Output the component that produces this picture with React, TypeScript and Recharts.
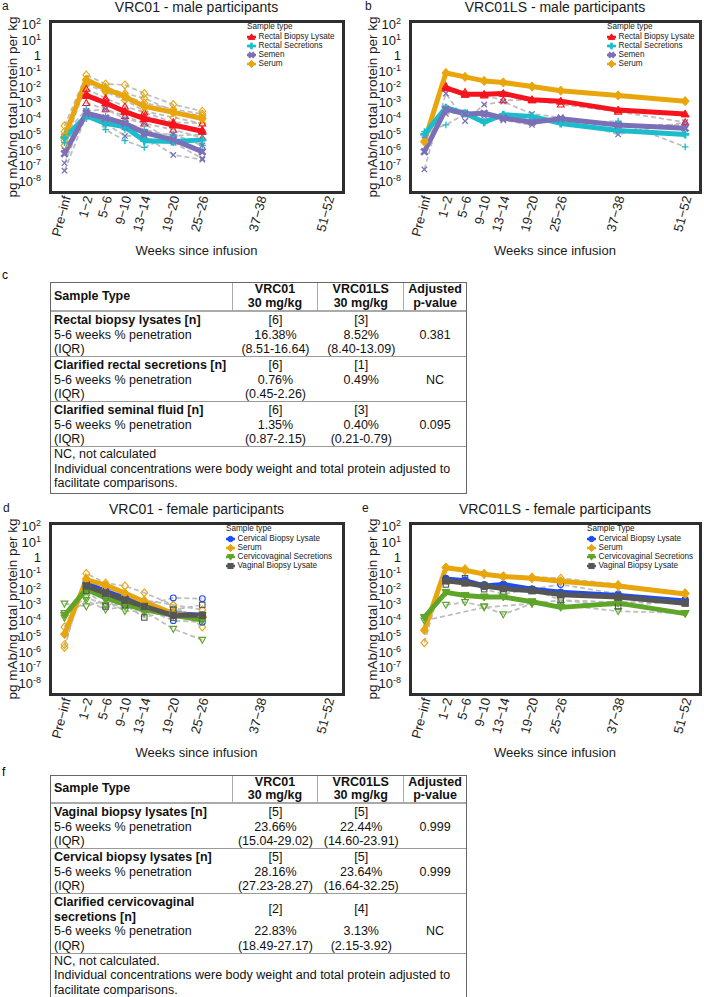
import React from 'react'
import { LineChart, Line, XAxis, YAxis } from 'recharts'

const FONT = '"Liberation Sans", Arial, Helvetica, sans-serif'

// time axis: label and position in weeks
const timeLabels = ['Pre−inf', '1−2', '5−6', '9−10', '13−14', '19−20', '25−26', '37−38', '51−52']
const timeWeeks = [-3, 1.5, 5.5, 9.5, 13.5, 19.5, 25.5, 37.5, 51.5]
const yTicks = [1e-8, 1e-7, 1e-6, 1e-5, 1e-4, 1e-3, 1e-2, 1e-1, 1, 10, 100]

const RED = '#f5141e'
const CYAN = '#1bbccb'
const PURPLE = '#7b6fb8'
const GOLD = '#e8a60c'
const BLUE = '#1e4cf2'
const GREEN = '#5fa52a'
const DGRAY = '#565656'
const IND_GRAY = '#bdbdbd'

type Shape = 'triangle' | 'plus' | 'x' | 'diamond' | 'circle' | 'triangleDown' | 'square'
type SampleType = { name: string; color: string; shape: Shape }

const rectalBiopsy: SampleType = { name: 'Rectal Biopsy Lysate', color: RED, shape: 'triangle' }
const rectalSecretions: SampleType = { name: 'Rectal Secretions', color: CYAN, shape: 'plus' }
const semen: SampleType = { name: 'Semen', color: PURPLE, shape: 'x' }
const serum: SampleType = { name: 'Serum', color: GOLD, shape: 'diamond' }
const cervicalBiopsy: SampleType = { name: 'Cervical Biopsy Lysate', color: BLUE, shape: 'circle' }
const cvSecretions: SampleType = { name: 'Cervicovaginal Secretions', color: GREEN, shape: 'triangleDown' }
const vaginalBiopsy: SampleType = { name: 'Vaginal Biopsy Lysate', color: DGRAY, shape: 'square' }

const maleTypes = [rectalBiopsy, rectalSecretions, semen, serum]
const femaleTypes = [cervicalBiopsy, serum, cvSecretions, vaginalBiopsy]

// ---- a: VRC01 male, medians ----
const aSerum = [7e-6, 3e-2, 8e-3, 2.5e-3, 6e-4, 2.5e-4, 1e-4]
const aRectalBiopsy = [null, 3e-3, 1e-3, 2.8e-4, 1e-4, 4e-5, 1.6e-5]
const aRectalSecretions = [6e-6, 1.5e-4, 5e-5, 3e-5, 4e-6, 3.5e-6, 4.5e-6]
const aSemen = [6e-7, 2.2e-4, 1.1e-4, 5e-5, 1.3e-5, 4.5e-6, 8e-7]
// individuals
const aIndSerum1 = [3.5e-5, 6e-2, 1.6e-2, 1.4e-2, 4e-3, 8e-4, 3e-4]
const aIndSerum2 = [2e-6, 1.5e-2, 5e-3, 1.5e-3, 3e-4, 1.2e-4, 5e-5]
const aIndSerum3 = [1.5e-5, 3e-2, 1e-2, 4e-3, 2e-3, 3e-4, 1.5e-4]
const aIndSerum4 = [4e-6, 2e-2, 6e-3, 3e-3, 1e-3, 4e-4, 2e-4]
const aIndRectal1 = [null, 8e-3, 2e-3, 6e-4, 2.5e-4, 6e-5, 5e-5]
const aIndRectal2 = [null, 1e-3, 4e-4, 1.5e-4, 5e-5, 2e-5, 6e-6]
const aIndRectal3 = [null, 4e-3, 1.5e-3, 3e-4, 1.5e-4, 5e-5, 2e-5]
const aIndSecr1 = [1e-5, 4e-4, 2e-5, 4e-6, 1.5e-6, 1e-5, 2e-6]
const aIndSecr2 = [3e-6, 1e-4, 1.5e-4, 6e-5, 2e-5, 8e-6, 1e-5]
const aIndSecr3 = [8e-6, 2e-4, 8e-5, 2e-5, 6e-6, 3e-6, 4e-6]
const aIndSemen1 = [1.5e-7, 3e-4, 4e-4, 1e-4, 5e-5, 3e-6, 3e-7]
const aIndSemen2 = [5e-8, 1.5e-4, 5e-5, 8e-6, 8e-6, 5e-7, 2.5e-7]
const aIndSemen3 = [1e-6, 3e-4, 1e-4, 3e-5, 1e-5, 1e-5, 2e-6]

// ---- b: VRC01LS male ----
const bSerum = [3.5e-6, 8e-2, 4.5e-2, 2.5e-2, 2e-2, 1.1e-2, 6e-3, 3e-3, 1.3e-3]
const bRectalBiopsy = [null, 9e-3, 3.5e-3, 3.5e-3, 4e-3, 1.6e-3, 1.3e-3, 3.5e-4, 2e-4]
const bRectalSecretions = [1e-5, 5e-4, 2.2e-4, 6e-5, 1.8e-4, 1.4e-4, 5e-5, 1.8e-5, 1e-5]
const bSemen = [8e-7, 4e-4, 2e-4, 2.2e-4, 1.1e-4, 6e-5, 1e-4, 4e-5, 2.5e-5]
const bIndSemen1 = [6e-8, 4e-3, 7e-5, 8e-4, 1.2e-3, 2e-4, 1.2e-4, 1e-5, 6e-5]
const bIndSemen2 = [5e-6, 2e-4, 2.5e-4, 1.5e-4, 8e-5, 4e-5, 1.2e-4, 4e-5, 4e-5]
const bIndSecr1 = [1.5e-5, 4e-5, 2e-4, 6e-5, 1.5e-4, 8e-5, 5e-5, 7e-5, 1.6e-6]
const bIndRectal1 = [null, 1.2e-2, 5e-3, 3e-3, 1.5e-3, 1.5e-3, 8e-4, 2.8e-4, 6e-5]

// ---- d: VRC01 female ----
const dCervical = [null, 2.5e-2, 7e-3, 2.8e-3, 1e-3, 2.8e-4, 2.2e-4]
const dSerum = [1.4e-5, 4e-2, 1.8e-2, 5.6e-3, 1.6e-3, 2.8e-4, 1.8e-4]
const dCvSecretions = [2.2e-4, 1e-2, 2.8e-3, 1.1e-3, 5e-4, 2.2e-4, 1.1e-4]
const dVaginal = [null, 1.6e-2, 5.6e-3, 2e-3, 8e-4, 2.2e-4, 2.2e-4]
const dIndSerum1 = [2e-6, 1e-1, 2.5e-2, 1.6e-2, 6e-3, 1e-3, 4e-5]
const dIndSerum2 = [4e-5, 2e-2, 1e-2, 5e-3, 2e-3, 1e-3, 5e-4]
const dIndSerum3 = [3e-6, 5e-2, 1.5e-2, 4e-3, 1e-3, 3e-4, 2e-4]
const dIndCerv1 = [null, 3e-2, 5e-3, 2e-3, 1e-3, 2.8e-3, 2.5e-3]
const dIndCerv2 = [null, 1.5e-2, 8e-3, 3e-3, 6e-4, 1e-4, 8e-5]
const dIndCvs1 = [1.2e-3, 8e-4, 2e-3, 4e-4, 4e-4, 3e-5, 6e-6]
const dIndCvs2 = [1.5e-4, 2e-3, 5e-4, 8e-4, 6e-4, 2e-4, 1e-4]
const dIndCvs3 = [3e-4, 3e-3, 1e-3, 1.2e-3, 3e-4, 5e-4, 2e-4]
const dIndVag1 = [null, 8e-3, 8e-4, 1e-3, 1.6e-4, 5e-4, 1e-3]
const dIndVag2 = [null, 2e-2, 4e-3, 2e-3, 8e-4, 1.5e-4, 1.5e-4]

// ---- e: VRC01LS female ----
const eCervical = [null, 4.5e-2, 3.5e-2, 1.6e-2, 2e-2, 1e-2, 6.3e-3, 4e-3, 1.8e-3]
const eSerum = [2.5e-5, 0.23, 0.16, 9e-2, 6.3e-2, 5e-2, 3.2e-2, 1.6e-2, 5e-3]
const eCvSecretions = [1.6e-4, 6.3e-3, 4e-3, 3.2e-3, 3.2e-3, 1.6e-3, 7e-4, 1.3e-3, 2.8e-4]
const eVaginal = [null, 3.4e-2, 2.5e-2, 1.6e-2, 1.1e-2, 8e-3, 4.5e-3, 3.2e-3, 1.3e-3]
const eIndSerum1 = [4e-6, 0.25, 0.2, 0.1, 0.07, 0.06, 0.05, 0.02, 6e-3]
const eIndCvs1 = [null, 1e-3, 1.5e-3, 8e-4, 2.5e-4, 1.2e-3, 1e-3, 4e-4, 3e-4]
const eIndCvs2 = [1e-4, null, null, 7e-4, null, 1.2e-3, 2e-3, 1.5e-3, 1.5e-3]
const eIndVag1 = [null, 2e-2, 5e-2, 1e-2, 5e-3, 1e-2, 2e-3, 8e-4, 2e-3]
const eIndCerv1 = [null, 5e-2, 4e-2, 2e-2, 2e-2, 1e-2, 2e-2, 5e-3, 2e-3]

// ---- tables ----
const tableHeaders = ['Sample Type', 'VRC01\n30 mg/kg', 'VRC01LS\n30 mg/kg', 'Adjusted\np-value']
const cRowTitles = [['Rectal biopsy lysates [n]'], ['Clarified rectal secretions [n]'], ['Clarified seminal fluid [n]']]
const cN01 = ['[6]', '[6]', '[6]']
const cPct01 = ['16.38%', '0.76%', '1.35%']
const cIqr01 = ['(8.51-16.64)', '(0.45-2.26)', '(0.87-2.15)']
const cN01LS = ['[3]', '[1]', '[3]']
const cPct01LS = ['8.52%', '0.49%', '0.40%']
const cIqr01LS = ['(8.40-13.09)', '', '(0.21-0.79)']
const cPValues = ['0.381', 'NC', '0.095']
const cFooter = ['NC, not calculated', 'Individual concentrations were body weight and total protein adjusted to', 'facilitate comparisons.']

const fRowTitles = [['Vaginal biopsy lysates [n]'], ['Cervical biopsy lysates [n]'], ['Clarified cervicovaginal', 'secretions [n]']]
const fN01 = ['[5]', '[5]', '[2]']
const fPct01 = ['23.66%', '28.16%', '22.83%']
const fIqr01 = ['(15.04-29.02)', '(27.23-28.27)', '(18.49-27.17)']
const fN01LS = ['[5]', '[5]', '[4]']
const fPct01LS = ['22.44%', '23.64%', '3.13%']
const fIqr01LS = ['(14.60-23.91)', '(16.64-32.25)', '(2.15-3.92)']
const fPValues = ['0.999', '0.999', 'NC']
const fFooter = ['NC, not calculated.', 'Individual concentrations were body weight and total protein adjusted to', 'facilitate comparisons.']

type Trace = { type: SampleType; values: (number | null)[] }

const toPoints = (values: (number | null)[]) => values.map((v, i) => ({ x: timeWeeks[i], y: v }))

function Marker({ cx, cy, shape, color, filled, s }: { cx: number; cy: number; shape: Shape; color: string; filled: boolean; s: number }) {
  const fill = filled ? color : 'none'
  const sw = filled ? 1 : 1.1
  switch (shape) {
    case 'triangle':
      return <polygon points={`${cx},${cy - s} ${cx + s},${cy + s * 0.75} ${cx - s},${cy + s * 0.75}`} fill={fill} stroke={color} strokeWidth={sw} />
    case 'triangleDown':
      return <polygon points={`${cx},${cy + s} ${cx + s},${cy - s * 0.75} ${cx - s},${cy - s * 0.75}`} fill={fill} stroke={color} strokeWidth={sw} />
    case 'diamond':
      return <polygon points={`${cx},${cy - s * 1.15} ${cx + s},${cy} ${cx},${cy + s * 1.15} ${cx - s},${cy}`} fill={fill} stroke={color} strokeWidth={sw} />
    case 'circle':
      return <circle cx={cx} cy={cy} r={s * 0.85} fill={fill} stroke={color} strokeWidth={sw} />
    case 'square':
      return <rect x={cx - s * 0.8} y={cy - s * 0.8} width={s * 1.6} height={s * 1.6} fill={fill} stroke={color} strokeWidth={sw} />
    case 'plus':
      return <path d={`M${cx - s},${cy}H${cx + s}M${cx},${cy - s}V${cy + s}`} stroke={color} strokeWidth={filled ? 2.6 : 1.3} fill="none" />
    case 'x':
      return <path d={`M${cx - s * 0.8},${cy - s * 0.8}L${cx + s * 0.8},${cy + s * 0.8}M${cx - s * 0.8},${cy + s * 0.8}L${cx + s * 0.8},${cy - s * 0.8}`} stroke={color} strokeWidth={filled ? 2.6 : 1.3} fill="none" />
  }
  return null
}

const renderDot = (type: SampleType, filled: boolean) => (p: any) => {
  const k = `${type.name}-${filled}-${p.index}`
  if (p.cx == null || p.cy == null || Number.isNaN(p.cx) || Number.isNaN(p.cy) || p.payload?.y == null) return <g key={k} />
  return <g key={k}><Marker cx={p.cx} cy={p.cy} shape={type.shape} color={type.color} filled={filled} s={filled ? 4 : 3.4} /></g>
}

function XTick({ x, y, payload }: any) {
  const label = timeLabels[timeWeeks.indexOf(payload.value)]
  return (
    <g transform={`translate(${x + 2},${y - 4}) rotate(-75)`}>
      <text x={0} y={0} textAnchor="end" dy="0.35em" fontFamily={FONT} fontSize={13} fill="#1a1a1a">{label}</text>
    </g>
  )
}

function YTick({ x, y, payload }: any) {
  const e = Math.round(Math.log10(payload.value))
  return (
    <text x={x} y={y} textAnchor="end" dy="0.35em" fontFamily={FONT} fontSize={13} fill="#1a1a1a">
      {e === 0 ? '1' : <>10<tspan dy={-5} fontSize={9}>{e}</tspan></>}
    </text>
  )
}

function LegendIcon({ type }: { type: SampleType }) {
  return (
    <svg width={9} height={8} style={{ display: 'block' }}>
      <line x1={0} y1={4} x2={9} y2={4} stroke={type.color} strokeWidth={2.5} />
      <Marker cx={4.5} cy={4} shape={type.shape} color={type.color} filled s={3.2} />
    </svg>
  )
}

function Panel({ left, top, plotW, chartW, letter, letterX, title, legendTitle, legendX, types, medians, individuals, nPoints }: {
  left: number; top: number; plotW: number; chartW: number; letter: string; letterX: number; title: string
  legendTitle: string; legendX: number; types: SampleType[]; medians: Trace[]; individuals: Trace[]; nPoints: number
}) {
  const plotLeft = 50
  const plotTop = 21
  const plotH = 171
  const cx = plotLeft + plotW / 2
  return (
    <div style={{ position: 'absolute', left, top, width: chartW, height: 262, fontFamily: FONT, color: '#1a1a1a' }}>
      <div style={{ position: 'absolute', left: letterX, top: 0, fontSize: 12, lineHeight: '12px' }}>{letter}</div>
      <div style={{ position: 'absolute', left: cx - 150, width: 300, top: -1, fontSize: 14, lineHeight: '16px', textAlign: 'center' }}>{title}</div>
      <div style={{ position: 'absolute', left: 12, top: 107, transform: 'translate(-50%,-50%) rotate(-90deg)', fontSize: 13.5, whiteSpace: 'nowrap' }}>
        pg mAb/ng total protein per kg
      </div>
      <div style={{ position: 'absolute', left: 0, top: 0 }}>
        <LineChart width={chartW} height={240} margin={{ top: plotTop, right: chartW - plotLeft - plotW, bottom: 4, left: 0 }}>
          <XAxis type="number" dataKey="x" domain={[-6, 54.6]} ticks={timeWeeks} interval={0} allowDataOverflow height={44}
            axisLine={false} tickLine={false} tick={<XTick />} />
          <YAxis type="number" scale="log" domain={[2.2e-9, 160]} ticks={yTicks} interval={0} allowDataOverflow width={plotLeft}
            axisLine={false} tickLine={false} tickMargin={3} tick={<YTick />} />
          {individuals.map((t, i) => (
            <Line key={'ind' + i} name={'ind' + i} data={toPoints(t.values.slice(0, nPoints))} dataKey="y" type="linear"
              stroke={IND_GRAY} strokeWidth={1.7} strokeDasharray="5 3" connectNulls isAnimationActive={false}
              dot={renderDot(t.type, false)} activeDot={false} />
          ))}
          {medians.map((t, i) => (
            <Line key={'med' + i} name={t.type.name} data={toPoints(t.values.slice(0, nPoints))} dataKey="y" type="linear"
              stroke={t.type.color} strokeWidth={5} strokeLinejoin="round" connectNulls isAnimationActive={false}
              dot={renderDot(t.type, true)} activeDot={false} />
          ))}
        </LineChart>
      </div>
      <div style={{ position: 'absolute', left: plotLeft - 1.5, top: plotTop - 1.5, width: plotW + 3, height: plotH + 3, border: '3px solid #2e2e2e', boxSizing: 'border-box' }} />
      <div style={{ position: 'absolute', left: plotLeft + legendX, top: plotTop + 1, fontSize: 8.2, lineHeight: '9px', color: '#222' }}>
        <div style={{ marginBottom: 1 }}>{legendTitle}</div>
        {types.map(t => (
          <div key={t.name} style={{ display: 'flex', alignItems: 'center', height: 9 }}>
            <LegendIcon type={t} />
            <span style={{ marginLeft: 2.5, whiteSpace: 'nowrap' }}>{t.name}</span>
          </div>
        ))}
      </div>
      <div style={{ position: 'absolute', left: cx - 100, width: 200, top: 243, fontSize: 13, lineHeight: '15px', textAlign: 'center' }}>Weeks since infusion</div>
    </div>
  )
}

const COLS = [183, 86, 86, 62]
const LH = 14.5

function DataTable({ top, headerH, titles, n01, pct01, iqr01, n01ls, pct01ls, iqr01ls, pvals, footer }: {
  top: number; headerH: number; titles: string[][]; n01: string[]; pct01: string[]; iqr01: string[]
  n01ls: string[]; pct01ls: string[]; iqr01ls: string[]; pvals: string[]; footer: string[]
}) {
  const valueCell = (w: number, nTitle: number, n: string, pct: string, iqr: string) => (
    <div style={{ width: w, textAlign: 'center' }}>
      <div style={{ height: nTitle * LH, display: 'flex', alignItems: 'center', justifyContent: 'center' }}>{n}</div>
      <div style={{ height: LH }}>{pct}</div>
      <div style={{ height: LH }}>{iqr}</div>
    </div>
  )
  return (
    <div style={{ position: 'absolute', left: 50, top, width: 417, border: '1px solid #666', boxSizing: 'border-box', fontFamily: FONT, fontSize: 12.5, color: '#111', lineHeight: `${LH}px` }}>
      <div style={{ display: 'flex', height: headerH, borderBottom: '2px solid #aaa', fontWeight: 'bold', boxSizing: 'border-box' }}>
        {tableHeaders.map((h, i) => (
          <div key={h} style={{
            width: COLS[i] - (i === 0 ? 1 : 0), borderRight: i < 3 ? '1.5px solid #aaa' : 'none', boxSizing: 'border-box',
            display: 'flex', flexDirection: 'column', justifyContent: 'center', alignItems: i === 0 ? 'flex-start' : 'center',
            paddingLeft: i === 0 ? 3 : 0, lineHeight: '13.5px', whiteSpace: 'nowrap',
          }}>
            {h.split('\n').map(l => <div key={l}>{l}</div>)}
          </div>
        ))}
      </div>
      {titles.map((t, r) => (
        <div key={r} style={{ display: 'flex', height: (t.length + 2) * LH + 1.5, paddingTop: 1, borderBottom: '1.5px solid #9a9a9a', boxSizing: 'border-box', whiteSpace: 'nowrap' }}>
          <div style={{ width: COLS[0] - 1, paddingLeft: 3, boxSizing: 'border-box' }}>
            {t.map(l => <div key={l} style={{ fontWeight: 'bold', height: LH }}>{l}</div>)}
            <div style={{ height: LH }}>5-6 weeks % penetration</div>
            <div style={{ height: LH }}>(IQR)</div>
          </div>
          {valueCell(COLS[1], t.length, n01[r], pct01[r], iqr01[r])}
          {valueCell(COLS[2], t.length, n01ls[r], pct01ls[r], iqr01ls[r])}
          <div style={{ width: COLS[3], textAlign: 'center', paddingTop: t.length * LH, boxSizing: 'border-box' }}>{pvals[r]}</div>
        </div>
      ))}
      <div style={{ padding: '0 3px 0 3px', whiteSpace: 'nowrap', lineHeight: '14.5px', paddingBottom: 2 }}>
        {footer.map(l => <div key={l}>{l}</div>)}
      </div>
    </div>
  )
}

export default function App() {
  const aMedians: Trace[] = [
    { type: serum, values: aSerum }, { type: rectalBiopsy, values: aRectalBiopsy },
    { type: rectalSecretions, values: aRectalSecretions }, { type: semen, values: aSemen },
  ]
  const aInd: Trace[] = [
    { type: serum, values: aIndSerum1 }, { type: serum, values: aIndSerum2 }, { type: serum, values: aIndSerum3 }, { type: serum, values: aIndSerum4 },
    { type: rectalBiopsy, values: aIndRectal1 }, { type: rectalBiopsy, values: aIndRectal2 }, { type: rectalBiopsy, values: aIndRectal3 },
    { type: rectalSecretions, values: aIndSecr1 }, { type: rectalSecretions, values: aIndSecr2 }, { type: rectalSecretions, values: aIndSecr3 },
    { type: semen, values: aIndSemen1 }, { type: semen, values: aIndSemen2 }, { type: semen, values: aIndSemen3 },
  ]
  const bMedians: Trace[] = [
    { type: serum, values: bSerum }, { type: rectalBiopsy, values: bRectalBiopsy },
    { type: rectalSecretions, values: bRectalSecretions }, { type: semen, values: bSemen },
  ]
  const bInd: Trace[] = [
    { type: semen, values: bIndSemen1 }, { type: semen, values: bIndSemen2 },
    { type: rectalSecretions, values: bIndSecr1 }, { type: rectalBiopsy, values: bIndRectal1 },
  ]
  const dMedians: Trace[] = [
    { type: cervicalBiopsy, values: dCervical }, { type: serum, values: dSerum },
    { type: cvSecretions, values: dCvSecretions }, { type: vaginalBiopsy, values: dVaginal },
  ]
  const dInd: Trace[] = [
    { type: serum, values: dIndSerum1 }, { type: serum, values: dIndSerum2 }, { type: serum, values: dIndSerum3 },
    { type: cervicalBiopsy, values: dIndCerv1 }, { type: cervicalBiopsy, values: dIndCerv2 },
    { type: cvSecretions, values: dIndCvs1 }, { type: cvSecretions, values: dIndCvs2 }, { type: cvSecretions, values: dIndCvs3 },
    { type: vaginalBiopsy, values: dIndVag1 }, { type: vaginalBiopsy, values: dIndVag2 },
  ]
  const eMedians: Trace[] = [
    { type: cervicalBiopsy, values: eCervical }, { type: serum, values: eSerum },
    { type: cvSecretions, values: eCvSecretions }, { type: vaginalBiopsy, values: eVaginal },
  ]
  const eInd: Trace[] = [
    { type: serum, values: eIndSerum1 }, { type: cvSecretions, values: eIndCvs1 }, { type: cvSecretions, values: eIndCvs2 },
    { type: vaginalBiopsy, values: eIndVag1 }, { type: cervicalBiopsy, values: eIndCerv1 },
  ]
  return (
    <div style={{ position: 'absolute', left: 0, top: 0, width: 704, height: 997, background: '#fff', fontFamily: FONT, overflow: 'hidden' }}>
      <Panel left={0} top={0} plotW={293} chartW={352} letter="a" letterX={2} title="VRC01 - male participants"
        legendTitle="Sample type" legendX={197} types={maleTypes} medians={aMedians} individuals={aInd} nPoints={7} />
      <Panel left={360} top={0} plotW={290} chartW={344} letter="b" letterX={5} title="VRC01LS - male participants"
        legendTitle="Sample type" legendX={197} types={maleTypes} medians={bMedians} individuals={bInd} nPoints={9} />
      <div style={{ position: 'absolute', left: 2, top: 268, fontSize: 12 }}>c</div>
      <DataTable top={282} headerH={29} titles={cRowTitles} n01={cN01} pct01={cPct01} iqr01={cIqr01}
        n01ls={cN01LS} pct01ls={cPct01LS} iqr01ls={cIqr01LS} pvals={cPValues} footer={cFooter} />
      <Panel left={0} top={502} plotW={293} chartW={352} letter="d" letterX={3} title="VRC01 - female participants"
        legendTitle="Sample type" legendX={176} types={femaleTypes} medians={dMedians} individuals={dInd} nPoints={7} />
      <Panel left={360} top={502} plotW={290} chartW={344} letter="e" letterX={2} title="VRC01LS - female participants"
        legendTitle="Sample Type" legendX={177} types={femaleTypes} medians={eMedians} individuals={eInd} nPoints={9} />
      <div style={{ position: 'absolute', left: 2, top: 765, fontSize: 12 }}>f</div>
      <DataTable top={775} headerH={28} titles={fRowTitles} n01={fN01} pct01={fPct01} iqr01={fIqr01}
        n01ls={fN01LS} pct01ls={fPct01LS} iqr01ls={fIqr01LS} pvals={fPValues} footer={fFooter} />
    </div>
  )
}
